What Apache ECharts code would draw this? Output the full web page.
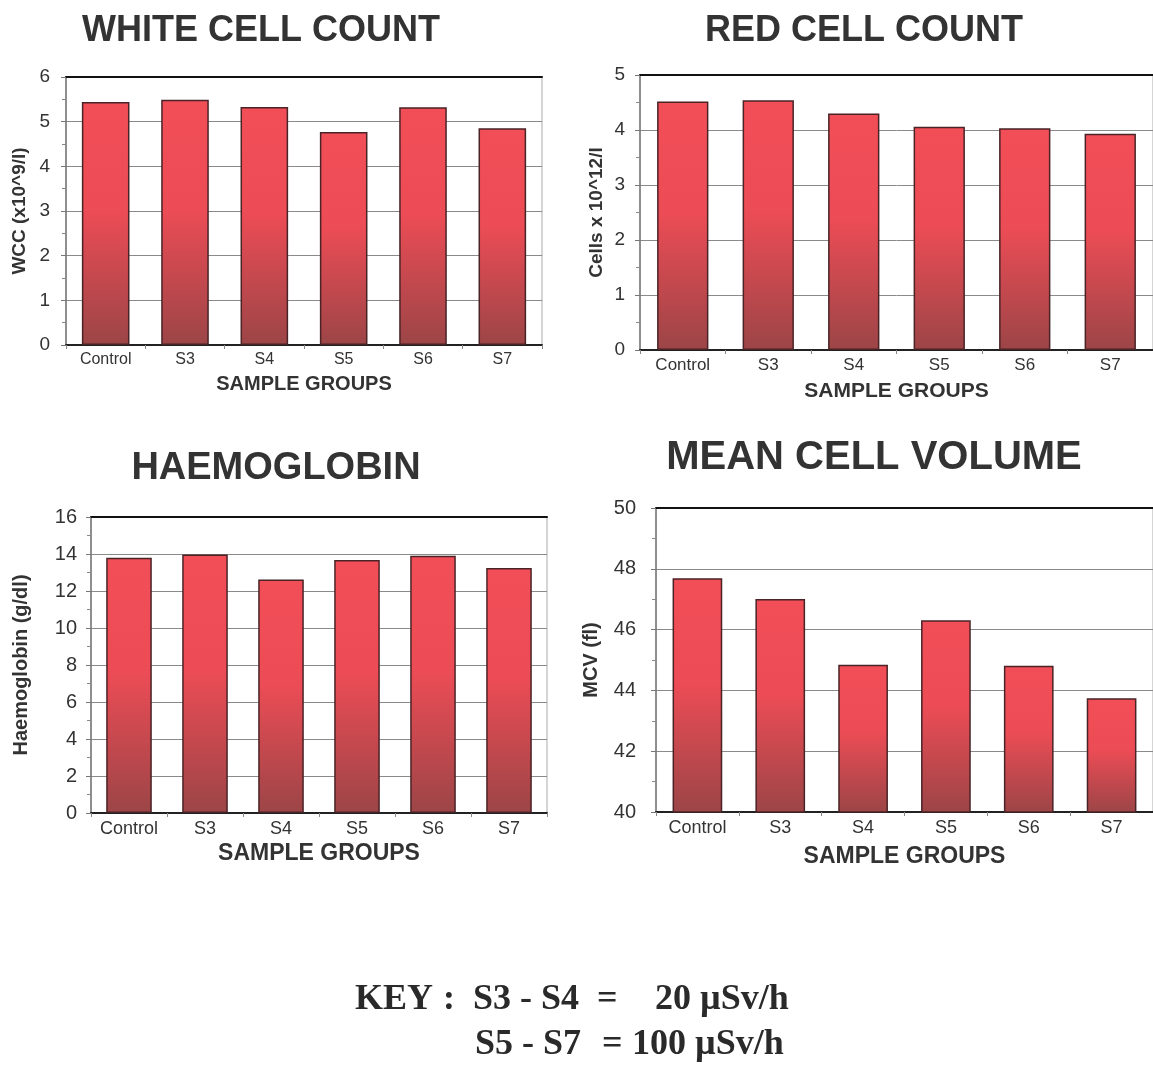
<!DOCTYPE html>
<html>
<head>
<meta charset="utf-8">
<title>Blood counts by sample group</title>
<script src="https://cdn.jsdelivr.net/npm/echarts@6/dist/echarts.min.js"></script>
<style>
  html, body { margin: 0; padding: 0; background: #fff; overflow: hidden; }
  #charts { width: 1153px; height: 1065px; }
</style>
</head>
<body>
<div id="charts"></div>
<script>
// categories shared by all four panels
const groups = ['Control', 'S3', 'S4', 'S5', 'S6', 'S7']

// values
const wcc = [5.44, 5.49, 5.33, 4.77, 5.32, 4.85]
const rcc = [4.52, 4.54, 4.3, 4.06, 4.03, 3.93]
const hb = [13.8, 13.97, 12.62, 13.67, 13.9, 13.25]
const mcv = [47.69, 47.01, 44.84, 46.31, 44.81, 43.74]

const titles = ['WHITE CELL COUNT', 'RED CELL COUNT', 'HAEMOGLOBIN', 'MEAN CELL VOLUME']
const yNames = ['WCC (x10^9/l)', 'Cells x 10^12/l', 'Haemoglobin (g/dl)', 'MCV (fl)']
const yRanges = [[0, 6, 1], [0, 5, 1], [0, 16, 2], [40, 50, 2]]
const keyParts = ['KEY', ':', 'S3 - S4', '=', '20 µSv/h', 'S5 - S7', '=', '100 µSv/h']

const font = '"Liberation Sans", Arial, sans-serif'
const serif = '"Liberation Serif", "Times New Roman", serif'

// panel layout in pixels
const grids = [
  { left: 66, top: 77, width: 476, height: 268 },
  { left: 640, top: 75, width: 522, height: 275 },
  { left: 91, top: 517, width: 456, height: 296 },
  { left: 656, top: 508, width: 498, height: 304 }
]
const titlePos = [[256, 8], [859, 8], [271, 445], [869, 433]]
const titleSize = [36, 36, 38, 40]
const yNameGap = [37, 34, 60, 55]
const yNameSize = [19, 19, 20, 20]
const yLabelSize = [19, 19, 20, 20]
const yLabelMargin = [16, 15, 14, 20]
const xNameGap = [29, 31, 29, 33]
const xNameSize = [20, 21, 23, 23]
const xLabelSize = [16, 17, 18, 18]
// key text positions, one per part
const keyPos = [[355, 982], [443, 982], [473, 982], [597, 982], [655, 982],
  [475, 1027], [602, 1027], [632, 1027]]

const barColor = new echarts.graphic.LinearGradient(0, 0, 0, 1, [
  { offset: 0, color: '#f24e58' },
  { offset: 0.45, color: '#ec4c55' },
  { offset: 1, color: '#9c4547' }
])

const data = [wcc, rcc, hb, mcv]

const option = {
  animation: false,
  backgroundColor: '#fff',
  title: titles.map((t, i) => ({
    text: t,
    left: titlePos[i][0],
    top: titlePos[i][1],
    textAlign: 'center',
    textStyle: { fontFamily: font, fontSize: titleSize[i], fontWeight: 'bold', color: '#333' }
  })),
  grid: grids.map(g => ({ ...g, show: true, borderColor: '#aaa', borderWidth: 1 })),
  xAxis: [
    ...grids.map((g, i) => ({
      type: 'category',
      gridIndex: i,
      data: groups,
      name: 'SAMPLE GROUPS',
      nameLocation: 'middle',
      nameGap: xNameGap[i],
      nameTextStyle: { fontFamily: font, fontSize: xNameSize[i], fontWeight: 'bold', color: '#333' },
      axisLine: { lineStyle: { color: '#222', width: 2 } },
      axisTick: { show: true, length: 4, lineStyle: { color: '#888' } },
      axisLabel: { fontFamily: font, fontSize: xLabelSize[i], color: '#333', margin: 7 }
    })),
    // black top border
    ...grids.map((g, i) => ({
      type: 'category',
      gridIndex: i,
      position: 'top',
      data: groups,
      axisLine: { lineStyle: { color: '#111', width: 2 } },
      axisTick: { show: false },
      axisLabel: { show: false }
    }))
  ],
  yAxis: grids.map((g, i) => ({
    type: 'value',
    gridIndex: i,
    min: yRanges[i][0],
    max: yRanges[i][1],
    interval: yRanges[i][2],
    name: yNames[i],
    nameLocation: 'middle',
    nameRotate: 90,
    nameGap: yNameGap[i],
    nameTextStyle: { fontFamily: font, fontSize: yNameSize[i], fontWeight: 'bold', color: '#333' },
    axisLine: { show: true, lineStyle: { color: '#777', width: 1.5 } },
    axisTick: { show: true, length: 5, lineStyle: { color: '#777' } },
    minorTick: { show: true, splitNumber: 2, length: 4, lineStyle: { color: '#888' } },
    axisLabel: { fontFamily: font, fontSize: yLabelSize[i], color: '#333', margin: yLabelMargin[i] },
    splitLine: { show: true, lineStyle: { color: '#8a8a8a', width: 1 } }
  })),
  series: data.map((d, i) => ({
    type: 'bar',
    xAxisIndex: i,
    yAxisIndex: i,
    data: d,
    barCategoryGap: '40%',
    itemStyle: { color: barColor, borderColor: '#4a2326', borderWidth: 1.5 }
  })),
  graphic: keyParts.map((t, i) => ({
    type: 'text',
    left: keyPos[i][0],
    top: keyPos[i][1],
    style: { text: t, font: 'bold 36px ' + serif, fill: '#2a2a2a' }
  }))
}

const myChart = echarts.init(document.getElementById('charts'))
myChart.setOption(option)
</script>
</body>
</html>
